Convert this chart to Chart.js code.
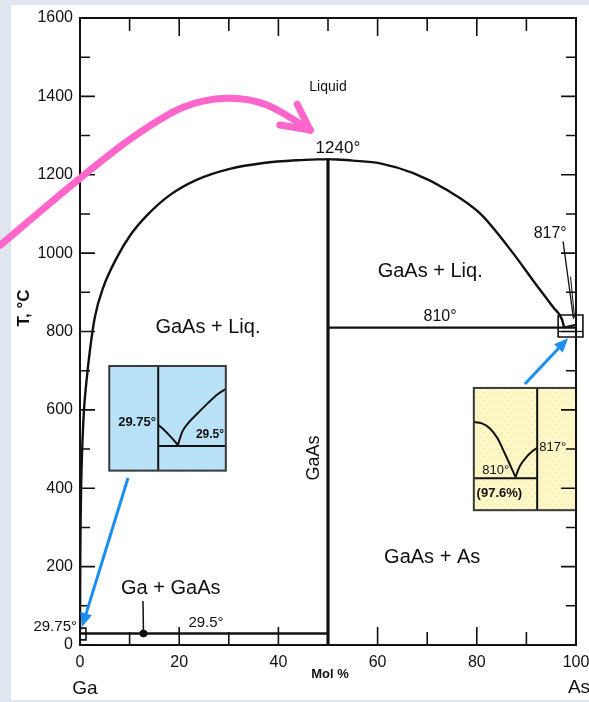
<!DOCTYPE html>
<html>
<head>
<meta charset="utf-8">
<script src="https://cdn.jsdelivr.net/npm/chart.js@4.4.1/dist/chart.umd.min.js"></script>
<style>
  html, body { margin: 0; padding: 0; background: #dfe6ef; }
  #wrap { width: 589px; height: 702px; position: relative; }
</style>
</head>
<body>
<div id="wrap"><canvas id="c" width="589" height="702"></canvas></div>
<script>
// Ga–As equilibrium phase diagram (T in °C vs. mol % As)

const xTicks = [0, 20, 40, 60, 80, 100];
const yTicks = [0, 200, 400, 600, 800, 1000, 1200, 1400, 1600];

// Liquidus, Ga-rich side: from the Ga eutectic up to the GaAs congruent melting point
const liquidusGaSide = [
  [0, 29.75], [0.05, 200], [0.2, 380], [0.5, 520], [0.8, 600], [1.2, 660],
  [2, 752], [3, 837], [4.7, 913], [7.4, 988], [10.1, 1045], [13.4, 1095],
  [18.1, 1148], [23.5, 1187], [30.2, 1215], [37, 1230], [43.7, 1237], [50, 1240]
];
// Liquidus, As-rich side: from the GaAs maximum down to the 810 °C eutectic
const liquidusAsSide = [
  [50, 1240], [55, 1236], [60.5, 1229], [67.2, 1204], [74, 1161], [80.6, 1102],
  [87.3, 1000], [91.3, 931], [95.4, 862], [97.2, 830], [97.6, 810]
];
// Short rise from the eutectic to the As melting point
const liquidusAsEnd = [[97.6, 810], [100, 817]];

const gaasCompound = [[50, 0], [50, 1240]];   // GaAs line compound
const eutecticGa = [[0, 29.5], [50, 29.5]];   // Ga + GaAs eutectic
const eutecticAs = [[50, 810], [100, 810]];   // GaAs + As eutectic

const eutecticAsComposition = 97.6;

// Leader lines and the small magnified-area frames
const leaderGaGaAs = [[12.7, 112], [12.8, 29.5]];
const leader817a = [[97.4, 1030], [99.5, 832]];
const leader817b = [[98.9, 940], [99.7, 836]];
const frameAsCorner = [[96.4, 842], [101.4, 842], [101.4, 786], [96.4, 786], [96.4, 842]];
const frameAsInner = [[96.4, 800], [101.4, 800]];
const frameGaCorner = [[0, 43], [1.2, 43], [1.2, 13], [0, 13], [0, 43]];

const pts = arr => arr.map(([x, y]) => ({ x, y }));
const INK = '#111111';
const FONT = '"Liberation Sans", Arial, sans-serif';

function lineSet(data, width, extra) {
  return Object.assign({
    data: pts(data), showLine: true, borderColor: INK, borderWidth: width,
    pointRadius: 0, fill: false, tension: 0
  }, extra || {});
}

const datasets = [
  lineSet(liquidusGaSide, 2.4, { cubicInterpolationMode: 'monotone' }),
  lineSet(liquidusAsSide, 2.4, { cubicInterpolationMode: 'monotone' }),
  lineSet(liquidusAsEnd, 2.0),
  lineSet(gaasCompound, 3.2),
  lineSet(eutecticGa, 2.6),
  lineSet(eutecticAs, 2.4),
  lineSet(leaderGaGaAs, 1.5),
  lineSet(leader817a, 1.3, { clip: false }),
  lineSet(leader817b, 1.0, { clip: false }),
  lineSet(frameAsCorner, 1.6, { clip: false }),
  lineSet(frameAsInner, 1.2, { clip: false }),
  lineSet(frameGaCorner, 1.6, { clip: false }),
  { data: [{ x: 12.8, y: 29.5 }], showLine: false, pointRadius: 3.5,
    pointBackgroundColor: INK, pointBorderColor: INK }
];

// Text placed in data coordinates (mol % As, °C)
const regionLabels = [
  { text: 'Liquid', x: 50.0, t: 1423, size: 14 },
  { text: '1240°', x: 52.0, t: 1268, size: 17 },
  { text: '817°', x: 94.8, t: 1051, size: 16 },
  { text: 'GaAs + Liq.', x: 70.6, t: 954, size: 20 },
  { text: '810°', x: 72.6, t: 837, size: 16 },
  { text: 'GaAs + Liq.', x: 25.8, t: 811, size: 20 },
  { text: 'GaAs', x: 47.2, t: 477, size: 18, rotate: true },
  { text: 'GaAs + As', x: 71.0, t: 224, size: 20 },
  { text: 'Ga + GaAs', x: 18.3, t: 145, size: 20 },
  { text: '29.5°', x: 25.4, t: 56, size: 15 },
  { text: '29.75°', x: -5.0, t: 46, size: 15 }
];

// Magnified views of the two eutectic corners (frame in data coords, contents in box fractions)
const insets = [
  {
    x0: 5.9, x1: 29.4, t0: 712, t1: 445, fill: '#b3e4f7', speck: '#d6d3f4',
    lines: [
      [[0.42, 0], [0.42, 1]],
      [[0.42, 0.764], [1, 0.764]]
    ],
    curves: [
      [[0.42, 0.564], [0.46, 0.60], [0.53, 0.68], [0.589, 0.755]],
      [[0.589, 0.755], [0.63, 0.62], [0.69, 0.53], [0.76, 0.45], [0.85, 0.35], [0.93, 0.27], [1.0, 0.22]]
    ],
    labels: [
      { text: '29.75°', u: 0.40, v: 0.54, size: 13, align: 'right', bold: true },
      { text: '29.5°', u: 0.985, v: 0.655, size: 12, align: 'right', bold: true }
    ]
  },
  {
    x0: 79.4, x1: 100, t0: 656, t1: 344, fill: '#fdf8c6', speck: '#f1ecbc',
    lines: [
      [[0.62, 0], [0.62, 1]],
      [[0, 0.738], [0.62, 0.738]]
    ],
    curves: [
      [[0, 0.279], [0.08, 0.29], [0.155, 0.33], [0.23, 0.41], [0.30, 0.53], [0.36, 0.64], [0.408, 0.73]],
      [[0.408, 0.73], [0.45, 0.64], [0.51, 0.57], [0.57, 0.52], [0.62, 0.492]]
    ],
    labels: [
      { text: '810°', u: 0.214, v: 0.672, size: 13, align: 'center' },
      { text: '(' + eutecticAsComposition + '%)', u: 0.25, v: 0.861, size: 13, align: 'center', bold: true },
      { text: '817°', u: 0.64, v: 0.483, size: 13, align: 'left' }
    ]
  }
];

// Call-out arrows (data coords; may run outside the plot frame)
const pinkArrow = {
  path: [[-16.1, 1020], [0, 1191], [10.7, 1296], [20.8, 1372], [29.6, 1395], [37.7, 1378], [46.4, 1314]],
  barbs: [[43.8, 1380], [40.3, 1327]]
};
const blueArrows = [
  { from: [9.68, 426], to: [0.4, 46] },
  { from: [89.7, 666], to: [98.4, 783] }
];

function toPx(chart, x, t) {
  return [chart.scales.x.getPixelForValue(x), chart.scales.y.getPixelForValue(t)];
}

function smoothPath(ctx, p) {
  ctx.moveTo(p[0][0], p[0][1]);
  for (let i = 0; i < p.length - 1; i++) {
    const p0 = p[Math.max(0, i - 1)], p1 = p[i], p2 = p[i + 1], p3 = p[Math.min(p.length - 1, i + 2)];
    const c1 = [p1[0] + (p2[0] - p0[0]) / 6, p1[1] + (p2[1] - p0[1]) / 6];
    const c2 = [p2[0] - (p3[0] - p1[0]) / 6, p2[1] - (p3[1] - p1[1]) / 6];
    ctx.bezierCurveTo(c1[0], c1[1], c2[0], c2[1], p2[0], p2[1]);
  }
}

function drawInset(ctx, chart, ins) {
  const [x0, y0] = toPx(chart, ins.x0, ins.t0);
  const [x1, y1] = toPx(chart, ins.x1, ins.t1);
  const w = x1 - x0, h = y1 - y0;
  const P = ([u, v]) => [x0 + u * w, y0 + v * h];
  ctx.save();
  ctx.fillStyle = ins.fill;
  ctx.fillRect(x0, y0, w, h);
  // ordered halftone texture
  ctx.fillStyle = ins.speck;
  for (let yy = 0; yy < h; yy += 4) {
    for (let xx = ((yy / 4) % 2) * 3; xx < w; xx += 6) {
      ctx.fillRect(x0 + xx, y0 + yy, 2, 2);
    }
  }
  ctx.strokeStyle = INK;
  ctx.lineWidth = 2;
  ins.lines.forEach(l => {
    ctx.beginPath();
    const a = P(l[0]), b = P(l[1]);
    ctx.moveTo(a[0], a[1]); ctx.lineTo(b[0], b[1]); ctx.stroke();
  });
  ins.curves.forEach(c => {
    ctx.beginPath(); smoothPath(ctx, c.map(P)); ctx.stroke();
  });
  ctx.strokeStyle = '#3a3a3a';
  ctx.lineWidth = 2;
  ctx.strokeRect(x0, y0, w, h);
  ctx.fillStyle = INK;
  ctx.textBaseline = 'middle';
  ins.labels.forEach(l => {
    ctx.font = (l.bold ? 'bold ' : '') + l.size + 'px ' + FONT;
    ctx.textAlign = l.align;
    const [lx, ly] = P([l.u, l.v]);
    ctx.fillText(l.text, lx, ly);
  });
  ctx.restore();
}

function arrowHead(ctx, from, to, len, half) {
  const a = Math.atan2(to[1] - from[1], to[0] - from[0]);
  ctx.beginPath();
  ctx.moveTo(to[0], to[1]);
  ctx.lineTo(to[0] - len * Math.cos(a) + half * Math.sin(a), to[1] - len * Math.sin(a) - half * Math.cos(a));
  ctx.lineTo(to[0] - len * Math.cos(a) - half * Math.sin(a), to[1] - len * Math.sin(a) + half * Math.cos(a));
  ctx.closePath();
  ctx.fill();
}

const backdrop = {
  id: 'backdrop',
  beforeDraw(chart) {
    const ctx = chart.ctx;
    ctx.save();
    ctx.fillStyle = '#dfe6ef';
    ctx.fillRect(0, 0, chart.width, chart.height);
    ctx.fillStyle = '#ffffff';
    ctx.fillRect(11, 5, chart.width - 11, 695);
    ctx.restore();
  }
};

const decorations = {
  id: 'decorations',
  afterDatasetsDraw(chart) {
    const ctx = chart.ctx;
    const xs = chart.scales.x, ys = chart.scales.y;
    const { left, right, top, bottom } = chart.chartArea;

    insets.forEach(ins => drawInset(ctx, chart, ins));

    ctx.save();
    // plot frame
    ctx.strokeStyle = INK;
    ctx.lineWidth = 2;
    ctx.strokeRect(left, top, right - left, bottom - top);

    // inward tick marks on all four sides, long at labelled values, short halfway between
    ctx.lineWidth = 1.6;
    const xMarks = [];
    xTicks.forEach((v, i) => {
      xMarks.push([v, 18]);
      if (i < xTicks.length - 1) xMarks.push([(v + xTicks[i + 1]) / 2, 13]);
    });
    xMarks.forEach(([v, len]) => {
      const p = xs.getPixelForValue(v);
      ctx.beginPath();
      ctx.moveTo(p, bottom); ctx.lineTo(p, bottom - len);
      ctx.moveTo(p, top); ctx.lineTo(p, top + len);
      ctx.stroke();
    });
    const yMarks = [];
    yTicks.forEach((v, i) => {
      yMarks.push([v, 15]);
      if (i < yTicks.length - 1) yMarks.push([(v + yTicks[i + 1]) / 2, 10]);
    });
    yMarks.forEach(([v, len]) => {
      const p = ys.getPixelForValue(v);
      ctx.beginPath();
      ctx.moveTo(left, p); ctx.lineTo(left + len, p);
      ctx.moveTo(right, p); ctx.lineTo(right - len, p);
      ctx.stroke();
    });

    // region and point labels
    ctx.fillStyle = INK;
    ctx.textBaseline = 'middle';
    ctx.textAlign = 'center';
    regionLabels.forEach(l => {
      const [lx, ly] = toPx(chart, l.x, l.t);
      ctx.font = l.size + 'px ' + FONT;
      if (l.rotate) {
        ctx.save();
        ctx.translate(lx, ly);
        ctx.rotate(-Math.PI / 2);
        ctx.fillText(l.text, 0, 0);
        ctx.restore();
      } else {
        ctx.fillText(l.text, lx, ly);
      }
    });

    // axis titles
    ctx.font = 'bold 17px ' + FONT;
    ctx.save();
    ctx.translate(left - 56, ys.getPixelForValue(860));
    ctx.rotate(-Math.PI / 2);
    ctx.fillText('T, °C', 0, 0);
    ctx.restore();
    ctx.font = '19px ' + FONT;
    ctx.fillText('Ga', xs.getPixelForValue(1), bottom + 44);
    ctx.fillText('As', xs.getPixelForValue(100.6), bottom + 43);
    ctx.font = 'bold 13px ' + FONT;
    ctx.fillText('Mol %', xs.getPixelForValue(50.4), bottom + 29);

    // blue call-out arrows
    ctx.strokeStyle = '#1b8ef2';
    ctx.fillStyle = '#1b8ef2';
    ctx.lineWidth = 3;
    blueArrows.forEach(a => {
      const f = toPx(chart, a.from[0], a.from[1]);
      const t = toPx(chart, a.to[0], a.to[1]);
      const ang = Math.atan2(t[1] - f[1], t[0] - f[0]);
      ctx.beginPath();
      ctx.moveTo(f[0], f[1]);
      ctx.lineTo(t[0] - 10 * Math.cos(ang), t[1] - 10 * Math.sin(ang));
      ctx.stroke();
      arrowHead(ctx, f, t, 14, 6);
    });

    // pink call-out arrow
    ctx.strokeStyle = '#ff66cc';
    ctx.lineWidth = 7;
    ctx.lineCap = 'round';
    ctx.lineJoin = 'round';
    const pp = pinkArrow.path.map(([x, t]) => toPx(chart, x, t));
    ctx.beginPath(); smoothPath(ctx, pp); ctx.stroke();
    const tip = pp[pp.length - 1];
    pinkArrow.barbs.forEach(([x, t]) => {
      const b = toPx(chart, x, t);
      ctx.beginPath(); ctx.moveTo(b[0], b[1]); ctx.lineTo(tip[0], tip[1]); ctx.stroke();
    });
    ctx.restore();
  }
};

new Chart(document.getElementById('c'), {
  type: 'scatter',
  data: { datasets },
  options: {
    responsive: false,
    animation: false,
    devicePixelRatio: 1,
    layout: { padding: { left: 0, right: 13, top: 18, bottom: 0 } },
    plugins: { legend: { display: false }, tooltip: { enabled: false } },
    scales: {
      x: {
        type: 'linear', min: 0, max: 100,
        afterFit(s) { s.height = 57; s.paddingLeft = 0; s.paddingRight = 0; },
        afterBuildTicks(s) { s.ticks = xTicks.map(v => ({ value: v })); },
        grid: { display: false, drawTicks: false }, border: { display: false },
        ticks: { padding: 8, color: INK, maxRotation: 0, font: { family: FONT, size: 16 },
                 callback: v => String(v) }
      },
      y: {
        type: 'linear', min: 0, max: 1600,
        afterFit(s) { s.width = 80; s.paddingTop = 0; s.paddingBottom = 0; },
        afterBuildTicks(s) { s.ticks = yTicks.map(v => ({ value: v })); },
        grid: { display: false, drawTicks: false }, border: { display: false },
        ticks: { padding: 7, color: INK, font: { family: FONT, size: 16 },
                 callback: v => String(v) }
      }
    }
  },
  plugins: [backdrop, decorations]
});
</script>
</body>
</html>
